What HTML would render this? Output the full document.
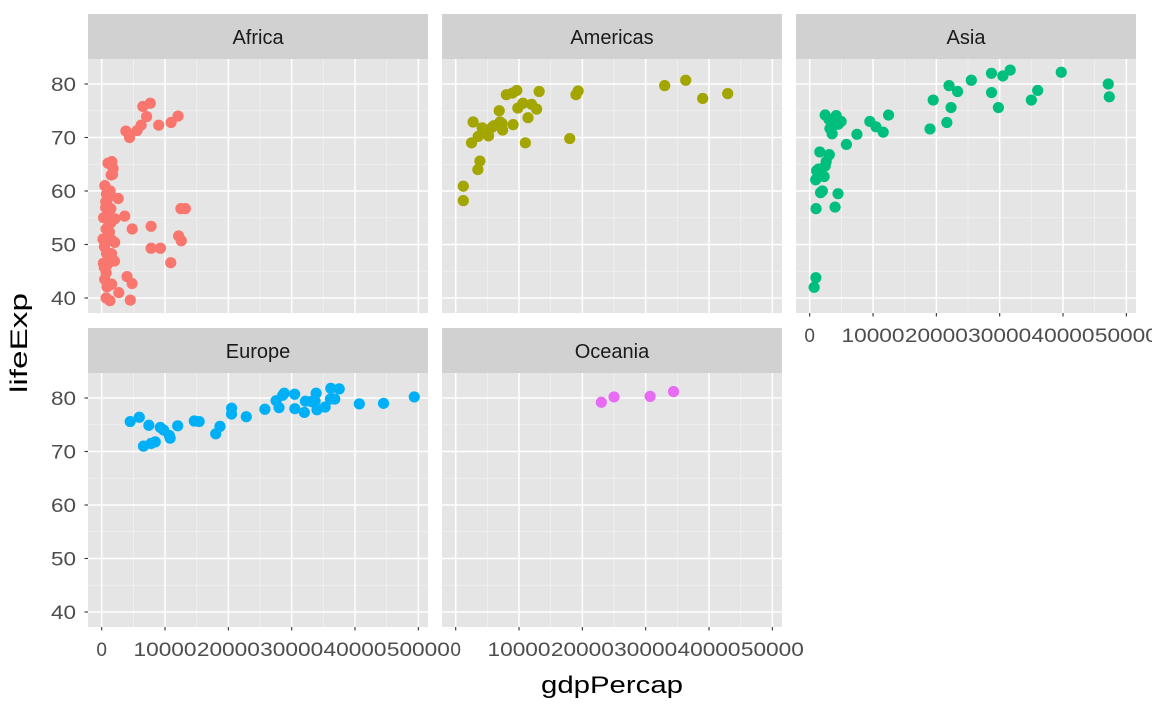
<!DOCTYPE html>
<html><head><meta charset="utf-8"><style>
html,body{margin:0;padding:0;background:#fff}
svg text{font-family:"Liberation Sans",Arial,sans-serif}
</style></head><body>
<svg id="s" width="1152" height="711" xmlns="http://www.w3.org/2000/svg">
<g id="g"></g>
<g font-size="20" fill="#1a1a1a" text-anchor="middle">
<text x="258" y="44">Africa</text>
<text x="612" y="44">Americas</text>
<text x="966" y="44">Asia</text>
<text x="258" y="358">Europe</text>
<text x="612" y="358">Oceania</text>
</g>
<g id="ty" font-size="19" fill="#4d4d4d" text-anchor="end"></g>
<g id="tx" font-size="19" fill="#4d4d4d" text-anchor="middle"></g>
<text x="612" y="693" font-size="24" fill="#000" text-anchor="middle" textLength="142" lengthAdjust="spacingAndGlyphs">gdpPercap</text>
<text transform="translate(27,343) rotate(-90)" font-size="24" fill="#000" text-anchor="middle" textLength="100" lengthAdjust="spacingAndGlyphs">lifeExp</text>
</svg>
<script>
var NS="http://www.w3.org/2000/svg",g=document.getElementById("g");
function el(t,a,p){var e=document.createElementNS(NS,t);for(var k in a)e.setAttribute(k,a[k]);(p||g).appendChild(e);return e;}
var ty=document.getElementById("ty"),tx=document.getElementById("tx");
[0,314].forEach(function(o){[80,70,60,50,40].forEach(function(v,i){var t=el("text",{x:76,y:91+o+i*53.5,textLength:25,lengthAdjust:"spacingAndGlyphs"},ty);t.textContent=String(v);});});
[[101.7,656],[455.7,656],[809.7,342]].forEach(function(p){for(var k=0;k<=5;k++){var s=k?String(k*10000):"0";var a={x:p[0]+k*63.33,y:p[1]};if(k){a.textLength=63;a.lengthAdjust="spacingAndGlyphs";}var t=el("text",a,tx);t.textContent=s;}});
var W=340,H=254,sx=63.33/10000,sy=5.35;
function panel(L,T,row,data,col,xax){
 el("rect",{x:L,y:T-45,width:W,height:45,fill:"#d1d1d1"});
 el("rect",{x:L,y:T,width:W,height:H,fill:"#e5e5e5"});
 var x0=L+13.7,y80=T+25;
 for(var v=45;v<=85;v+=10){var y=y80+(80-v)*sy;if(y>T&&y<T+H)el("line",{x1:L,x2:L+W,y1:y,y2:y,stroke:"#f2f2f2","stroke-width":0.8});}
 for(var v=5000;v<=55000;v+=10000){var x=x0+v*sx;if(x<L+W)el("line",{x1:x,x2:x,y1:T,y2:T+H,stroke:"#f2f2f2","stroke-width":0.8});}
 for(var v=40;v<=80;v+=10){var y=y80+(80-v)*sy;el("line",{x1:L,x2:L+W,y1:y,y2:y,stroke:"#fff","stroke-width":1.5});
  if(L==88)el("line",{x1:L-3.5,x2:L,y1:y,y2:y,stroke:"#333","stroke-width":1.1});}
 for(var v=0;v<=50000;v+=10000){var x=x0+v*sx;el("line",{x1:x,x2:x,y1:T,y2:T+H,stroke:"#fff","stroke-width":1.5});
  if(xax)el("line",{x1:x,x2:x,y1:T+H,y2:T+H+3.5,stroke:"#333","stroke-width":1.1});}
 for(var i=0;i<data.length;i+=2)el("circle",{cx:x0+data[i]*sx,cy:y80+(80-data[i+1])*sy,r:5.6,fill:col});
}
var af=[6223,72.3,4797,42.7,1441,56.7,12570,50.7,1217,52.3,430,49.6,2042,50.4,706,44.7,1704,50.7,986,65.2,278,46.5,3633,55.3,1545,48.3,2082,54.8,5581,71.3,12154,51.6,641,58.0,691,52.9,13206,56.7,12500,56.7,753,59.4,1328,60.0,943,56.0,580,46.4,1463,54.1,1569,42.6,415,45.7,12057,74.0,1044,59.4,759,48.3,1042,54.5,1803,64.2,10957,72.8,3820,71.2,824,42.1,4811,52.9,620,56.9,2014,46.9,7670,76.4,863,46.2,1598,65.5,1712,63.1,863,42.6,926,48.2,9270,49.3,2602,58.6,4513,39.6,1107,52.5,883,58.4,7093,73.9,1056,51.5,1271,42.4,470,43.5,7800,53.4,7800,49.3,10900,46.6,4000,44,2700,41,1300,39.5,700,40,9000,72.3,6500,75.8,4400,70,300,55,500,61,1500,63,200,51];
var am=[12779,75.3,3822,65.6,9066,72.4,36319,80.7,13172,78.6,7007,72.9,9645,78.8,8948,78.3,6025,72.2,6873,75.0,5728,71.9,5186,70.3,1202,60.9,3548,70.2,7321,72.6,11978,76.2,2749,72.9,9809,75.5,4173,71.8,7409,71.4,19329,78.7,18009,69.8,42952,78.2,10611,76.4,11416,73.7,33000,79.7,39000,77.3,19000,78,1200,58.2,3500,64,2500,69,11000,69,8000,78];
var as=[975,43.8,29796,75.6,1391,64.1,1714,59.7,4959,73.0,39725,82.2,2452,64.7,3541,70.7,11606,71.0,4471,59.5,25523,80.7,31656,82.6,4519,72.5,1593,67.3,23348,78.6,47307,77.6,10461,72.0,12452,74.2,3096,66.8,944,62.1,1091,63.8,22316,75.6,2606,65.5,3190,71.7,21655,72.8,47143,80.0,3970,72.4,4185,74.1,28718,78.4,7458,70.6,2442,74.2,3025,73.4,2281,62.7,700,42,1000,56.7,4000,57,19000,71.6,19500,77,22000,79.7,28700,82,30500,81.5,35000,77,36000,78.8,9500,73,5800,68.7,2000,60];
var eu=[5937,76.4,36126,79.8,33693,79.4,7446,74.9,10681,73.0,14619,75.7,22833,76.5,35278,78.3,33207,79.3,30470,80.7,32170,79.4,27538,79.5,18009,73.3,36181,81.8,40676,78.9,28570,80.5,9254,74.5,36798,79.8,49357,80.2,15390,75.6,20510,78.1,10808,72.5,9786,74.0,18678,74.7,25768,77.9,28821,80.9,33860,80.9,37506,81.7,8458,71.8,33203,79.4,44500,79,4500,75.6,6600,71,7800,71.5,12000,74.8,20500,77,28000,78.2,30500,78,32000,77.3,34000,77.8];
var oc=[23000,79.2,25000,80.2,30700,80.3,34400,81.2];
panel(88,59,0,af,"#F8766D",false);
panel(442,59,0,am,"#A3A500",false);
panel(796,59,0,as,"#00BF7D",true);
panel(88,373,1,eu,"#00B0F6",true);
panel(442,373,1,oc,"#E76BF3",true);
</script>
</body></html>
